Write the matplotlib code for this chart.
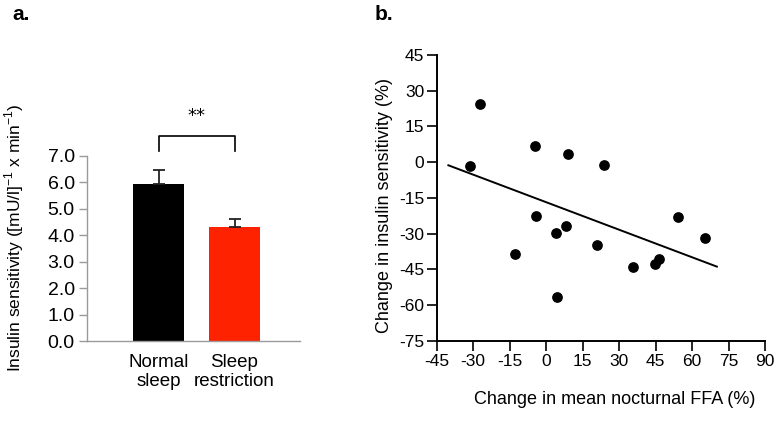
import matplotlib
matplotlib.use("Agg")
import matplotlib.pyplot as plt

# Panel a data
groups = ["Normal\nsleep", "Sleep\nrestriction"]
means = [5.92, 4.31]
errs = [0.55, 0.30]
bar_colors = ["#000000", "#ff2200"]
a_yticks = [0.0, 1.0, 2.0, 3.0, 4.0, 5.0, 6.0, 7.0]

# Panel b data
ffa_change = [-31.2, -27.1, -13.0, -4.6, -4.0, 4.0, 4.4, 8.1, 8.8, 20.8, 24.0, 35.9, 44.7, 46.3, 54.4, 65.5]
ins_change = [-1.8, 24.5, -38.7, 6.8, -22.7, -29.8, -56.5, -26.9, 3.6, -34.8, -1.1, -44.1, -42.7, -40.8, -22.8, -31.6]
fit_x = [-40.2, 70.2]
fit_y = [-1.3, -43.8]
b_xticks = [-45, -30, -15, 0, 15, 30, 45, 60, 75, 90]
b_yticks = [-75, -60, -45, -30, -15, 0, 15, 30, 45]

FONT = ["Liberation Sans", "DejaVu Sans"]

fig = plt.figure(figsize=(7.79, 4.23), dpi=100)
W, H = 779, 423

# ---------- Panel a ----------
axa = fig.add_axes([87.3 / W, (H - 341) / H, (300 - 87.3) / W, (341 - 155.7) / H])
xpos = [0, 1]
axa.bar(xpos, means, width=0.674, color=bar_colors, zorder=2)
for x, m, e in zip(xpos, means, errs):
    axa.errorbar([x], [m], yerr=[[0], [e]], fmt="none", ecolor="#222222",
                 elinewidth=1.3, capsize=4.5, capthick=1.3, zorder=3)
axa.set_xlim(-0.944, 1.865)
axa.set_ylim(0, 7)
axa.set_yticks(a_yticks)
axa.set_yticklabels([f"{v:.1f}" for v in a_yticks], fontsize=14, family=FONT)
axa.set_xticks(xpos)
axa.set_xticklabels(groups, fontsize=13.5, family=FONT, linespacing=1.2)
axa.tick_params(axis="x", length=0, pad=9)
axa.tick_params(axis="y", length=6, width=1, color="#9a9a9a", pad=3)
for s in ["top", "right"]:
    axa.spines[s].set_visible(False)
for s in ["left", "bottom"]:
    axa.spines[s].set_color("#9a9a9a")
    axa.spines[s].set_linewidth(1)
axa.set_ylabel("Insulin sensitivity ([mU/l]$^{\\mathregular{-1}}$ x min$^{\\mathregular{-1}}$)",
               fontsize=12.5, family=FONT)
axa.yaxis.set_label_coords((26 - 87.3) / (300 - 87.3), (341 - 238) / (341 - 155.7))
# significance bracket
axa.plot([0, 0, 1, 1], [7.18, 7.74, 7.74, 7.18], color="black", lw=1.2, clip_on=False)
axa.text(0.5, 8.5, "**", ha="center", va="center", fontsize=13, clip_on=False)

fig.text(12 / W, 1 - 15 / H, "a.", fontsize=15, fontweight="bold", family=FONT,
         va="center", ha="left")

# ---------- Panel b ----------
axb = fig.add_axes([436.7 / W, (H - 341) / H, (765 - 436.7) / W, (341 - 54.9) / H])
axb.scatter(ffa_change, ins_change, s=45, color="black", zorder=3)
axb.plot(fit_x, fit_y, color="black", lw=1.4)
axb.set_xlim(-45, 90)
axb.set_ylim(-75, 45)
axb.set_xticks(b_xticks)
axb.set_yticks(b_yticks)
axb.set_xticklabels([str(v) for v in b_xticks], fontsize=12.5, family=FONT)
axb.set_yticklabels([str(v) for v in b_yticks], fontsize=12.5, family=FONT)
axb.tick_params(axis="both", length=7, width=1.2, color="black", pad=2)
for s in ["top", "right"]:
    axb.spines[s].set_visible(False)
for s in ["left", "bottom"]:
    axb.spines[s].set_linewidth(1.4)
axb.set_xlabel("Change in mean nocturnal FFA (%)", fontsize=13, family=FONT)
axb.xaxis.set_label_coords((615 - 436.7) / (765 - 436.7), -(391 - 341) / (341 - 54.9))
axb.set_ylabel("Change in insulin sensitivity (%)", fontsize=13, family=FONT)
axb.yaxis.set_label_coords(-(436.7 - 393) / (765 - 436.7), (341 - 205) / (341 - 54.9))

fig.text(375 / W, 1 - 15 / H, "b.", fontsize=15, fontweight="bold", family=FONT,
         va="center", ha="left")

fig.savefig("out.png", dpi=100)
